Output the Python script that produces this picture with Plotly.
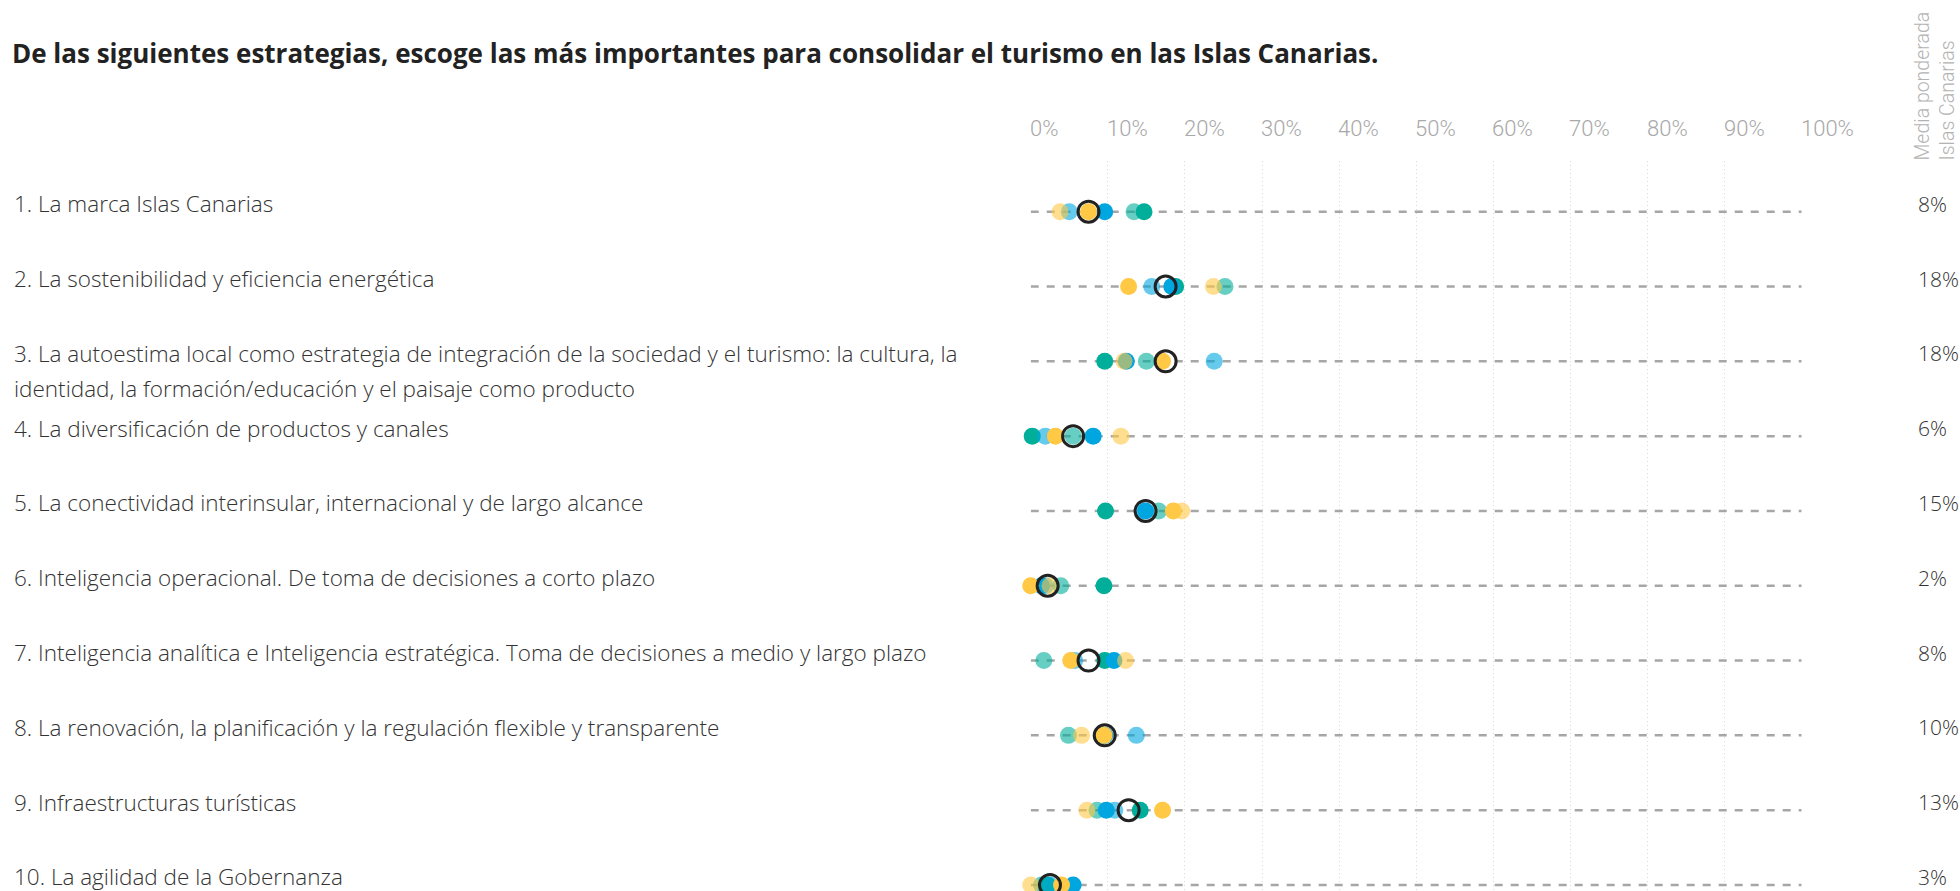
import math
import textwrap
import plotly.graph_objects as go

# ---- data -------------------------------------------------------------
title = ("De las siguientes estrategias, escoge las más importantes para "
         "consolidar el turismo en las Islas Canarias.")

categories = [
    "1. La marca Islas Canarias",
    "2. La sostenibilidad y eficiencia energética",
    "3. La autoestima local como estrategia de integración de la sociedad y el "
    "turismo: la cultura, la identidad, la formación/educación y el paisaje como producto",
    "4. La diversificación de productos y canales",
    "5. La conectividad interinsular, internacional y de largo alcance",
    "6. Inteligencia operacional. De toma de decisiones a corto plazo",
    "7. Inteligencia analítica e Inteligencia estratégica. Toma de decisiones a medio y largo plazo",
    "8. La renovación, la planificación y la regulación flexible y transparente",
    "9. Infraestructuras turísticas",
    "10. La agilidad de la Gobernanza",
]

# percentage per group and strategy (one value per row)
amarillo       = [7.5, 12.7, 17.1, 3.2, 18.5, 0.0, 5.2, 9.5, 17.1, 4.0]
amarillo_claro = [3.8, 23.7, 12.1, 11.7, 19.6, 2.5, 12.3, 6.6, 7.3, 0.0]
azul           = [9.6, 18.3, 12.4, 8.1, 14.9, 1.4, 10.8, 9.6, 9.8, 5.5]
azul_claro     = [5.0, 15.7, 23.8, 1.9, 14.6, 1.9, 5.7, 13.7, 10.9, 2.5]
verde          = [14.7, 18.8, 9.6, 0.2, 9.7, 9.5, 9.6, 9.4, 14.2, 2.2]
verde_claro    = [13.4, 25.2, 15.0, 5.5, 16.6, 3.9, 1.7, 4.9, 8.6, 1.4]

# weighted mean for the Canary Islands
media_ponderada = [7.5, 17.5, 17.5, 5.5, 14.9, 2.2, 7.5, 9.6, 12.7, 2.5]

ticks = [0, 10, 20, 30, 40, 50, 60, 70, 80, 90, 100]
tick_labels = [f"{t}%" for t in ticks]

# ---- styling ----------------------------------------------------------
W, H = 1960, 891
PLOT_LEFT, PLOT_RIGHT = 1030.7, 1801.7
PLOT_TOP = 161
ROW_STEP = 74.81
FIRST_ROW_PX = 211.7

FONT_TEXT = "Open Sans"
TEXT_DARK = "#333333"
TEXT_GREY = "#a8a8a8"

rows = list(range(1, len(categories) + 1))

series = [
    ("verde claro", verde_claro, "rgba(0,174,154,0.6)"),
    ("verde", verde, "rgb(0,174,154)"),
    ("azul", azul, "rgb(0,166,224)"),
    ("azul claro", azul_claro, "rgba(0,166,224,0.6)"),
    ("amarillo claro", amarillo_claro, "rgba(255,200,69,0.6)"),
    ("amarillo", amarillo, "rgb(255,200,69)"),
]

fig = go.Figure()

# dashed guide line for every strategy, from 0% to 100%
gx, gy = [], []
for r in rows:
    gx += [0, 100, None]
    gy += [r, r, None]
fig.add_trace(go.Scatter(
    x=gx, y=gy, mode="lines", hoverinfo="skip",
    line=dict(color="#a6a6a6", width=2.5, dash="8px,8px"),
))

for name, vals, color in series:
    fig.add_trace(go.Scatter(
        x=vals, y=rows, mode="markers", name=name, cliponaxis=False,
        marker=dict(size=17, color=color, line=dict(width=0)),
    ))

fig.add_trace(go.Scatter(
    x=media_ponderada, y=rows, mode="markers", name="Media ponderada",
    cliponaxis=False,
    marker=dict(size=21, color="rgba(0,0,0,0)",
                line=dict(width=3, color="#222222")),
))

annotations = []

# category labels on the left (long ones wrap onto a second line)
for r, label in zip(rows, categories):
    for k, line in enumerate(textwrap.wrap(label, width=98)):
        annotations.append(dict(
            x=12 / W, xref="paper", xanchor="left",
            y=r, yref="y", yanchor="middle", yshift=8 - 35 * k,
            text=line, showarrow=False,
            font=dict(family=FONT_TEXT, size=22.5, color=TEXT_DARK, weight=300),
        ))

# weighted mean values on the right
for r, v in zip(rows, media_ponderada):
    annotations.append(dict(
        x=1916 / W, xref="paper", xanchor="left",
        y=r, yref="y", yanchor="middle", yshift=8,
        text=f"{math.floor(v + 0.5)}%", showarrow=False,
        font=dict(family=FONT_TEXT, size=21, color=TEXT_DARK, weight=300),
    ))

# axis tick labels across the top, left-aligned on each gridline
for t, lab in zip(ticks, tick_labels):
    annotations.append(dict(
        x=t, xref="x", xanchor="left", xshift=-3,
        y=1 - 128 / H, yref="paper", yanchor="middle",
        text=lab, showarrow=False,
        font=dict(family="Roboto", size=22, color=TEXT_GREY, weight=300),
    ))

# rotated header of the right-hand column
annotations.append(dict(
    x=1909 / W, xref="paper", xanchor="left",
    y=1 - 163 / H, yref="paper", yanchor="bottom",
    text="Media ponderada<br>Islas Canarias", textangle=-90, align="left",
    showarrow=False,
    font=dict(family="Roboto", size=19.5, color="#b3b3b3", weight=300),
))

top_val = 1 - (FIRST_ROW_PX - PLOT_TOP) / ROW_STEP
bottom_val = len(categories) + (H - (FIRST_ROW_PX + ROW_STEP * (len(categories) - 1))) / ROW_STEP

fig.update_layout(
    width=W, height=H,
    margin=dict(l=0, r=0, t=0, b=0),
    paper_bgcolor="white", plot_bgcolor="white",
    showlegend=False,
    title=dict(
        text=f"<b>{title}</b>", x=12 / W, xanchor="left", xref="container",
        y=1 - 54 / H, yanchor="middle", yref="container",
        font=dict(family="Open Sans", size=26, color="#222222"),
    ),
    xaxis=dict(
        domain=[PLOT_LEFT / W, PLOT_RIGHT / W],
        range=[0, 100], tickvals=ticks, showticklabels=False,
        showgrid=True, gridcolor="#d9d9d9", gridwidth=1, griddash="1px,3px",
        zeroline=False, showline=False, fixedrange=True,
    ),
    yaxis=dict(
        domain=[0, 1 - PLOT_TOP / H],
        range=[bottom_val, top_val],
        showgrid=False, zeroline=False, showticklabels=False, showline=False,
        fixedrange=True,
    ),
    annotations=annotations,
)

fig.write_html("out.html", post_script="document.body.style.margin='0';")
